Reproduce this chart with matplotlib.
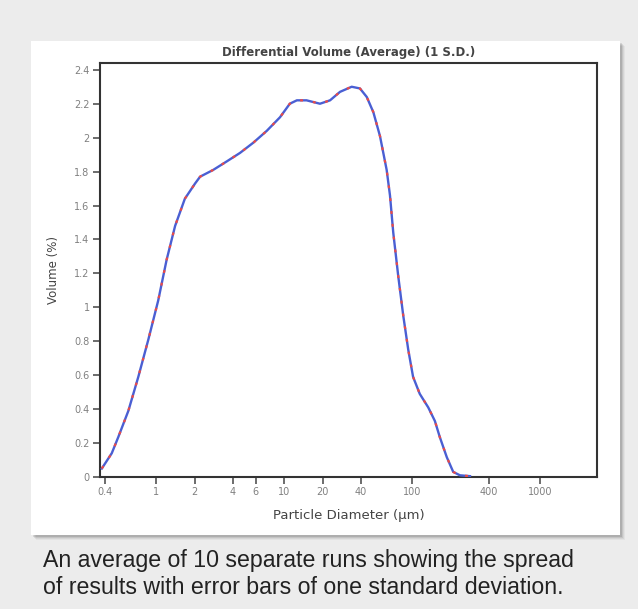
import matplotlib
matplotlib.use("Agg")
import matplotlib.pyplot as plt
from matplotlib.patches import Rectangle

plt.rcParams['font.family'] = ['DejaVu Sans']

# particle diameter (um) and differential volume (%)
diameter = [0.377, 0.451, 0.507, 0.608, 0.727, 0.871, 1.04, 1.21, 1.41, 1.68,
            2.02, 2.21, 2.80, 3.57, 4.53, 5.75, 7.33, 9.30, 11.1, 12.6,
            15.0, 19.1, 22.9, 27.4, 33.8, 39.2, 44.3, 49.9, 56.2, 63.4,
            67.3, 71.4, 78.2, 85.5, 93.5, 102, 115, 134, 151, 165,
            187, 210, 237, 284]
volume = [0.05, 0.14, 0.235, 0.39, 0.59, 0.81, 1.04, 1.28, 1.48, 1.64,
          1.73, 1.77, 1.81, 1.86, 1.91, 1.97, 2.04, 2.12, 2.20, 2.22,
          2.22, 2.20, 2.22, 2.27, 2.30, 2.29, 2.24, 2.15, 2.01, 1.81,
          1.66, 1.44, 1.18, 0.95, 0.75, 0.59, 0.49, 0.41, 0.33, 0.235,
          0.117, 0.03, 0.01, 0.005]

xticks = [0.4, 1, 2, 4, 6, 10, 20, 40, 100, 400, 1000]
xticklabels = ['0.4', '1', '2', '4', '6', '10', '20', '40', '100', '400', '1000']
yticks = [0, 0.2, 0.4, 0.6, 0.8, 1, 1.2, 1.4, 1.6, 1.8, 2, 2.2, 2.4]
yticklabels = ['0', '0.2', '0.4', '0.6', '0.8', '1', '1.2', '1.4', '1.6', '1.8', '2', '2.2', '2.4']

W, H = 638, 609
fig = plt.figure(figsize=(W / 100, H / 100), dpi=100)
fig.patch.set_facecolor('#ececec')

# white panel with a soft shadow
px0, py0, px1, py1 = 31, 41, 620, 535
for i, a in enumerate([0.10, 0.08, 0.06, 0.04]):
    fig.patches.append(Rectangle(((px0 + 2 + i) / W, 1 - (py1 + 2 + i) / H),
                                 (px1 - px0) / W, (py1 - py0) / H,
                                 transform=fig.transFigure, facecolor='black',
                                 alpha=a, edgecolor='none', zorder=-2))
fig.patches.append(Rectangle((px0 / W, 1 - py1 / H), (px1 - px0) / W, (py1 - py0) / H,
                             transform=fig.transFigure, facecolor='white',
                             edgecolor='none', zorder=-1))

ax = fig.add_axes([100 / W, 1 - 477 / H, (597 - 100) / W, (477 - 63) / H])
ax.set_zorder(2)
ax.set_facecolor('white')
ax.plot(diameter, volume, color='#4a5fd3', lw=1.7, zorder=3)
ax.plot(diameter, volume, color='#ec4a46', lw=1.6, dashes=(1.3, 4.5), zorder=4)

ax.set_xscale('log')
ax.set_xlim(0.365, 2790)
ax.set_ylim(0, 2.44)
ax.minorticks_off()
ax.set_xticks(xticks)
ax.set_xticklabels(xticklabels)
ax.set_yticks(yticks)
ax.set_yticklabels(yticklabels)
ax.tick_params(direction='out', length=5, width=1.1, color='#444444',
               labelsize=7, labelcolor='#808080', pad=2.5)
for s in ax.spines.values():
    s.set_color('#333333')
    s.set_linewidth(1.5)

ax.set_title('Differential Volume (Average) (1 S.D.)', fontsize=8.5,
             fontweight='bold', color='#444444', pad=5)
ax.set_xlabel('Particle Diameter (\u00b5m)', fontsize=9.5, color='#444444', labelpad=8)
ax.set_ylabel('Volume (%)', fontsize=8.5, color='#444444', labelpad=10)

fig.text(43 / W, 1 - 561 / H, 'An average of 10 separate runs showing the spread',
         fontsize=16.7, family='Liberation Sans', color='#222222',
         va='center', ha='left')
fig.text(43 / W, 1 - 588 / H, 'of results with error bars of one standard deviation.',
         fontsize=16.7, family='Liberation Sans', color='#222222',
         va='center', ha='left')

fig.savefig('out.png', dpi=100, facecolor=fig.get_facecolor())
